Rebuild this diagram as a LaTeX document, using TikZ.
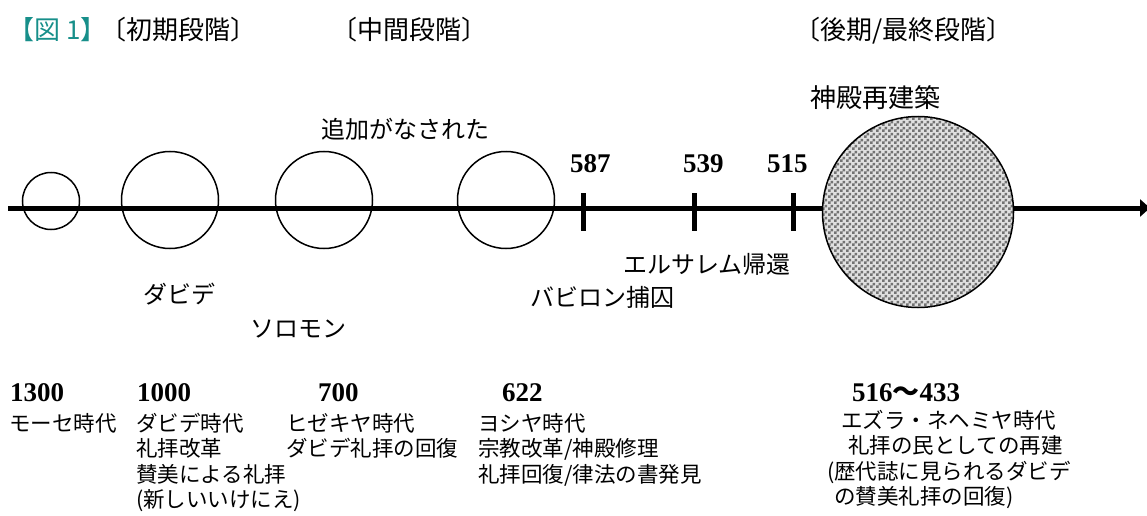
\documentclass[tikz,border=0pt]{standalone}
\usepackage{fontspec}
\setmainfont{Liberation Serif}
\newfontfamily\jpfont{Noto Sans CJK JP}
\usetikzlibrary{positioning, arrows.meta, patterns}
\definecolor{figteal}{RGB}{23,143,138}

\pgfdeclarepatternformonly{finecheck}{\pgfqpoint{0pt}{0pt}}{\pgfqpoint{6pt}{6pt}}{\pgfqpoint{6pt}{6pt}}{%
  \pgfpathrectangle{\pgfqpoint{0pt}{0pt}}{\pgfqpoint{3pt}{3pt}}%
  \pgfpathrectangle{\pgfqpoint{3pt}{3pt}}{\pgfqpoint{3pt}{3pt}}%
  \pgfusepath{fill}}

\begin{document}
\begin{tikzpicture}[
  x=1pt, y=-1pt,
  era/.style={circle, draw, line width=1.5pt, inner sep=0pt},
  yearnum/.style={font=\bfseries\fontsize{27}{27}\selectfont, anchor=west, inner sep=0pt},
  note/.style={font=\jpfont\fontsize{21.5}{21.5}\selectfont, anchor=base west, inner sep=0pt},
  midtext/.style={font=\jpfont\fontsize{24}{24}\selectfont, anchor=base west, inner sep=0pt},
  stage/.style={font=\jpfont\fontsize{26}{26}\selectfont, anchor=base west, inner sep=0pt},
  axisline/.style={line width=5pt}
]

\useasboundingbox (0,0) rectangle (1147,516);

% time axis
\coordinate (axL) at (8,208);
\coordinate (axR) at (1150,208);
\draw[axisline, -{Triangle[length=10pt, width=17pt]}] (axL) -- (axR);

% tick marks
\foreach \x/\n in {583/587, 694/539, 793/515} {
  \coordinate (tt\n) at (\x,193);
  \coordinate (tb\n) at (\x,231);
  \draw[axisline] (tt\n) -- (tb\n);
}
\node[yearnum] (y587) at (570,164) {587};
\node[yearnum] (y539) at (683,164) {539};
\node[yearnum] (y515) at (767,164) {515};

% circles
\node[era, minimum size=57] (c1300) at (51,201) {};
\node[era, minimum size=97] (c1000) at (170,200) {};
\node[era, minimum size=97] (c700) at (324,200) {};
\node[era, minimum size=97] (c622) at (506,200) {};
\node[era, minimum size=191, preaction={fill=black!12}, pattern=finecheck,
  pattern color=black!55] (c516) at (918,212) {};

% stages
\node[stage] (st1) at (8,40) {{\color{figteal}【図 1】}\hspace{-6pt}〔初期段階〕};
\node[stage] (st2) at (331,40) {〔中間段階〕};
\node[stage] (st3) at (794,40) {〔後期/最終段階〕};

% labels on the axis
\node[stage] (tRebuild) at (810,108) {神殿再建築};
\node[midtext] (tAdd) at (321,139) {追加がなされた};
\node[midtext] (tDavid) at (143,303) {ダビデ};
\node[midtext] (tSolomon) at (250,337) {ソロモン};
\node[midtext] (tReturn) at (623,273) {エルサレム帰還};
\node[midtext] (tExile) at (530,306) {バビロン捕囚};

% years below
\node[yearnum] (y1300) at (10,392.5) {1300};
\node[yearnum] (y1000) at (137,392.5) {1000};
\node[yearnum] (y700) at (318,392.5) {700};
\node[yearnum] (y622) at (502,392.5) {622};
\node[yearnum] (y516) at (852,392.5) {516{\jpfont ～}433};

% notes
\node[note] (m1) at (9,431) {モーセ時代};
\foreach \t [count=\i] in {ダビデ時代, 礼拝改革, 賛美による礼拝, (新しいいけにえ)}
  \node[note] (d\i) at (136,{431+25.5*(\i-1)}) {\t};
\foreach \t [count=\i] in {ヒゼキヤ時代, ダビデ礼拝の回復}
  \node[note] (h\i) at (286,{431+25.5*(\i-1)}) {\t};
\foreach \t [count=\i] in {ヨシヤ時代, 宗教改革/神殿修理, 礼拝回復/律法の書発見}
  \node[note] (j\i) at (478,{431+25.5*(\i-1)}) {\t};
\node[note] (e1) at (841,428) {エズラ・ネヘミヤ時代};
\node[note] (e2) at (848,453.5) {礼拝の民としての再建};
\node[note] (e3) at (827,479) {(歴代誌に見られるダビデ};
\node[note] (e4) at (834,504.5) {の賛美礼拝の回復)};

\end{tikzpicture}
\end{document}
